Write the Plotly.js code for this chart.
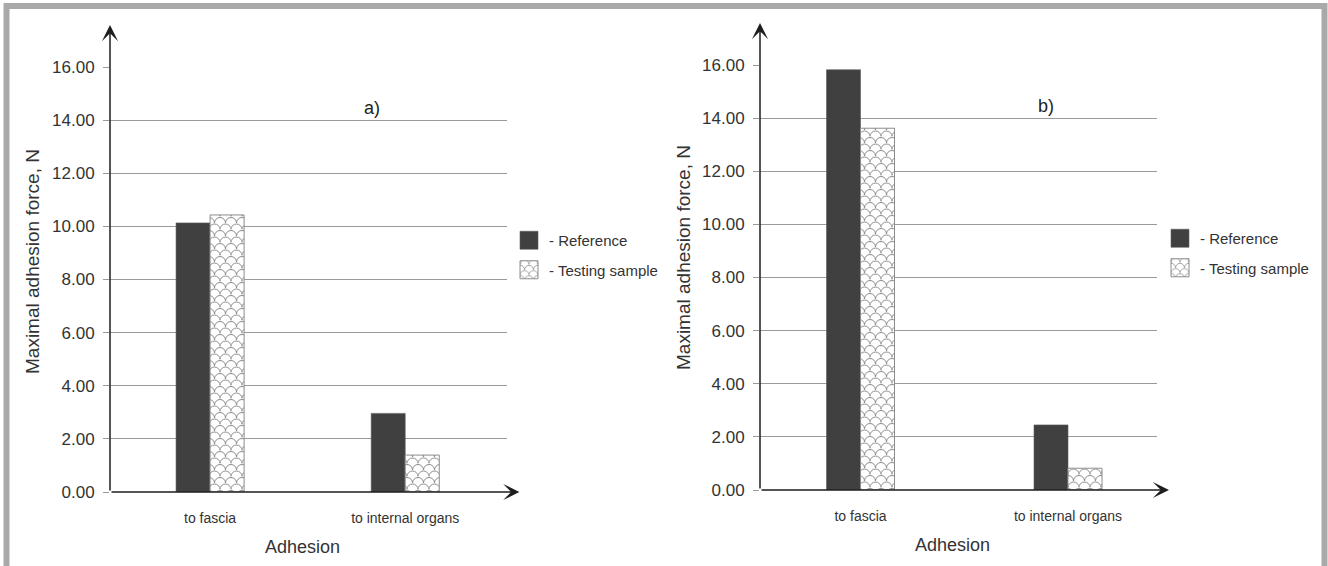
<!DOCTYPE html>
<html>
<head>
<meta charset="utf-8">
<script src="https://cdn.plot.ly/plotly-3.0.1.min.js"></script>
<style>
  html, body { margin: 0; padding: 0; background: #fff; }
  #chart { width: 1328px; height: 566px; }
</style>
</head>
<body>
<div id="chart"></div>
<script>
// ---- data ----
const categories = ["to fascia", "to internal organs"];
const seriesNames = ["- Reference", "- Testing sample"];
const panelA_reference = [10.13, 2.96];
const panelA_testing   = [10.43, 1.39];
const panelB_reference = [15.82, 2.45];
const panelB_testing   = [13.62, 0.82];
const yTickValues = [0, 2, 4, 6, 8, 10, 12, 14, 16];
const yTickLabels = ["0.00", "2.00", "4.00", "6.00", "8.00", "10.00", "12.00", "14.00", "16.00"];
const panelLabels = ["a)", "b)"];
const yTitle = "Maximal adhesion force, N";
const xTitle = "Adhesion";

// ---- styling ----
const FONT = '"Liberation Sans", Arial, sans-serif';
const DARK = '#404040';
const GRID = '#9a9a9a';
const TXT = '#333333';
const W = 1328, H = 566;
const px = v => v / W;
const py = v => 1 - v / H;

const xIdx = categories.map((c, i) => i);
const barW_A = 34 / 195;
const barW_B = 34 / 207.5;

function refTrace(y, xa, ya, w, leg, show) {
  return {
    type: 'bar', x: xIdx, y: y, xaxis: xa, yaxis: ya, name: seriesNames[0],
    width: w, offset: -w, legend: leg, showlegend: show, legendgroup: 'r' + leg,
    marker: { color: DARK, line: { color: '#5a5a5a', width: 0.6 } },
    hoverinfo: 'skip'
  };
}
function testTrace(y, xa, ya, w, leg, show) {
  return {
    type: 'bar', x: xIdx, y: y, xaxis: xa, yaxis: ya, name: seriesNames[1],
    width: w, offset: 0, legend: leg, showlegend: show, legendgroup: 't' + leg,
    marker: { color: '#ffffff', line: { color: '#8c8c8c', width: 1 },
      pattern: { shape: 'x', bgcolor: '#ffffff', fgcolor: '#8c8c8c', size: 11, solidity: 0.1 } },
    hoverinfo: 'skip'
  };
}

const data = [
  refTrace(panelA_reference, 'x', 'y', barW_A, 'legend', true),
  testTrace(panelA_testing, 'x', 'y', barW_A, 'legend', true),
  refTrace(panelB_reference, 'x2', 'y2', barW_B, 'legend2', true),
  testTrace(panelB_testing, 'x2', 'y2', barW_B, 'legend2', true)
];

function yaxis(domain) {
  return {
    domain: domain, range: [0, 16], autorange: false, fixedrange: true,
    tickvals: yTickValues, ticktext: yTickLabels,
    showgrid: true, gridcolor: GRID, gridwidth: 1,
    ticks: 'outside', ticklen: 6, tickcolor: GRID, tickwidth: 1,
    ticklabelstandoff: 5,
    tickfont: { family: FONT, size: 17, color: TXT },
    zeroline: false, showline: false, automargin: false
  };
}
function xaxis(domain, range, anchor) {
  return {
    domain: domain, range: range, autorange: false, fixedrange: true, anchor: anchor,
    tickvals: xIdx, ticktext: categories, showgrid: false, zeroline: false, showline: false,
    ticks: '', ticklabelstandoff: 16,
    tickfont: { family: FONT, size: 14, color: TXT }, automargin: false
  };
}

const xRangeA = [-(210 - 110) / 195, 1 + (507 - 405.3) / 195];
const xRangeB = [-(860.5 - 760) / 207.5, 1 + (1157 - 1068) / 207.5];

function axisArrow(xref, yref, x, y, ax, ay) {
  return {
    xref: xref, yref: yref, axref: xref, ayref: yref,
    x: x, y: y, ax: ax, ay: ay, text: '', showarrow: true,
    arrowhead: 3, arrowsize: 1.8, arrowwidth: 1.5, arrowcolor: '#1e1e1e', standoff: 0
  };
}

const tipA_x = (519 - 210) / 195;
const tipB_x = (1169 - 860.5) / 207.5;
const tipA_y = (492 - 25) / 26.5625;
const tipB_y = (490 - 23) / 26.5625;

function label(x, y, text, size, color, angle) {
  return { xref: 'paper', yref: 'paper', x: px(x), y: py(y), xanchor: 'center', yanchor: 'middle',
    text: text, showarrow: false, textangle: angle || 0,
    font: { family: FONT, size: size, color: color } };
}

const annotations = [
  axisArrow('x', 'y', tipA_x, 0, xRangeA[0], 0),
  axisArrow('x', 'y', xRangeA[0], tipA_y, xRangeA[0], 0),
  axisArrow('x2', 'y2', tipB_x, 0, xRangeB[0], 0),
  axisArrow('x2', 'y2', xRangeB[0], tipB_y, xRangeB[0], 0),
  label(372, 108, panelLabels[0], 18, '#222'),
  label(1046, 106, panelLabels[1], 18, '#222'),
  label(32, 262, yTitle, 19, TXT, -90),
  label(683, 257, yTitle, 19, TXT, -90),
  label(302, 547, xTitle, 18, TXT),
  label(952, 545, xTitle, 18, TXT)
];

const legendBase = {
  xanchor: 'left', yanchor: 'top', bgcolor: 'rgba(0,0,0,0)', borderwidth: 0,
  font: { family: FONT, size: 15, color: TXT }, tracegroupgap: 7, traceorder: 'grouped'
};

const layout = {
  width: W, height: H,
  margin: { l: 0, r: 0, t: 0, b: 0, pad: 0 },
  paper_bgcolor: '#ffffff', plot_bgcolor: '#ffffff',
  barmode: 'overlay', showlegend: true,
  xaxis: xaxis([px(110), px(507)], xRangeA, 'y'),
  yaxis: yaxis([1 - 492 / H, 1 - 67 / H]),
  xaxis2: xaxis([px(760), px(1157)], xRangeB, 'y2'),
  yaxis2: Object.assign(yaxis([1 - 490 / H, 1 - 65 / H]), { anchor: 'x2' }),
  legend: Object.assign({}, legendBase, { x: px(509), y: py(224) }),
  legend2: Object.assign({}, legendBase, { x: px(1160), y: py(222) }),
  annotations: annotations,
  shapes: [
    { type: 'rect', xref: 'paper', yref: 'paper', x0: px(6.5), x1: px(1324.5), y0: -0.2, y1: py(6),
      line: { color: '#a9a9a9', width: 6 }, fillcolor: 'rgba(0,0,0,0)', layer: 'above' }
  ]
};

Plotly.newPlot('chart', data, layout, { staticPlot: true, displayModeBar: false }).then(gd => {
  // fish-scale pattern for the testing-sample bars
  const arcs = 'M0,6.5 A5.5,5.5 0 0 1 11,6.5 M-5.5,13 A5.5,5.5 0 0 1 5.5,13 A5.5,5.5 0 0 1 16.5,13 M-5.5,0 A5.5,5.5 0 0 1 5.5,0 A5.5,5.5 0 0 1 16.5,0';
  document.querySelectorAll('pattern').forEach(p => {
    p.setAttribute('width', 11);
    p.setAttribute('height', 13);
    p.setAttribute('patternUnits', 'userSpaceOnUse');
    p.innerHTML = '<rect x="0" y="0" width="11" height="13" fill="#ffffff"></rect>' +
      '<path d="' + arcs + '" fill="none" stroke="#8c8c8c" stroke-width="1"></path>';
  });
  // larger legend swatches
  document.querySelectorAll('.legendpoints path').forEach(p => {
    p.setAttribute('d', 'M9,9H-9V-9H9Z');
  });
});
</script>
</body>
</html>
